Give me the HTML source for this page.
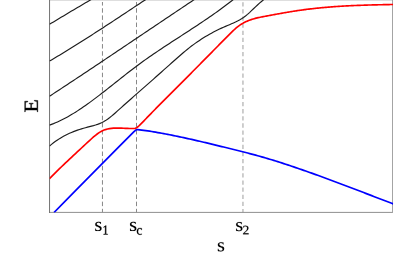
<!DOCTYPE html>
<html><head><meta charset="utf-8"><style>
html,body{margin:0;padding:0;background:#fff;}
body{width:415px;height:257px;overflow:hidden;position:relative;font-family:"Liberation Serif",serif;}
svg{position:absolute;left:0;top:0;display:block;}
</style></head><body>
<svg width="415" height="257" viewBox="0 0 415 257">
<defs><clipPath id="d"><rect x="0" y="1.9" width="415" height="211"/></clipPath><clipPath id="c"><rect x="49.5" y="0" width="343.6" height="212.6"/></clipPath></defs>
<g fill="none" stroke-linecap="butt" stroke-linejoin="round">
<g clip-path="url(#d)">
<line x1="102.46" y1="-6.1" x2="102.46" y2="212.4" stroke="#787878" stroke-width="0.88" stroke-dasharray="4.5 2.664"/>
<line x1="136.5" y1="-6.1" x2="136.5" y2="212.4" stroke="#787878" stroke-width="0.88" stroke-dasharray="4.5 2.664"/>
<line x1="242.95" y1="-5" x2="242.95" y2="212.4" stroke="#b4b4b4" stroke-width="1.3" stroke-dasharray="4.3 2.83"/>
</g>
<line x1="49.5" y1="0.5" x2="392.5" y2="0.5" stroke="#dedede" stroke-width="1"/>
<line x1="49" y1="212.4" x2="393" y2="212.4" stroke="#909090" stroke-width="1"/>
<line x1="392.5" y1="0" x2="392.5" y2="212.9" stroke="#a4a4a4" stroke-width="1"/>
<line x1="49.55" y1="0" x2="49.55" y2="212.9" stroke="#6a6a6a" stroke-width="0.95"/>
<g clip-path="url(#c)">
<path d="M49.50 24.30 L51.50 23.10 L53.50 21.90 L55.50 20.70 L57.50 19.50 L59.50 18.30 L61.50 17.10 L63.50 15.90 L65.50 14.70 L67.50 13.50 L69.50 12.30 L71.50 11.12 L73.50 9.95 L75.50 8.77 L77.50 7.59 L79.50 6.41 L81.50 5.22 L83.50 4.04 L85.50 2.87 L87.50 1.69 L89.50 0.50 L91.50 -0.70 L93.50 -1.90 L95.00 -2.80" stroke="#1c1c1c" stroke-width="1.15"/>
<path d="M49.50 61.11 L51.50 59.93 L53.50 58.74 L55.50 57.55 L57.50 56.35 L59.50 55.15 L61.50 53.94 L63.50 52.73 L65.50 51.50 L67.50 50.28 L69.50 49.04 L71.50 47.81 L73.50 46.56 L75.50 45.32 L77.50 44.06 L79.50 42.81 L81.50 41.54 L83.50 40.28 L85.50 39.01 L87.50 37.73 L89.50 36.45 L91.50 35.17 L93.50 33.89 L95.50 32.60 L97.50 31.30 L99.50 30.01 L101.50 28.71 L103.50 27.41 L105.50 26.10 L107.50 24.80 L109.50 23.49 L111.50 22.18 L113.50 20.86 L115.50 19.55 L117.50 18.23 L119.50 16.91 L121.50 15.59 L123.50 14.27 L125.50 12.94 L127.50 11.62 L129.50 10.29 L131.50 8.97 L133.50 7.64 L135.50 6.31 L137.50 4.99 L139.50 3.66 L141.50 2.33 L143.50 1.00 L145.50 -0.33 L147.50 -1.65 L149.50 -2.98 L151.00 -3.97" stroke="#1c1c1c" stroke-width="1.15"/>
<path d="M49.50 96.26 L51.50 94.95 L53.50 93.64 L55.50 92.33 L57.50 91.02 L59.50 89.70 L61.50 88.38 L63.50 87.07 L65.50 85.75 L67.50 84.43 L69.50 83.10 L71.50 81.78 L73.50 80.46 L75.50 79.13 L77.50 77.81 L79.50 76.48 L81.50 75.15 L83.50 73.82 L85.50 72.49 L87.50 71.16 L89.50 69.83 L91.50 68.49 L93.50 67.16 L95.50 65.82 L97.50 64.49 L99.50 63.15 L101.50 61.81 L103.50 60.48 L105.50 59.14 L107.50 57.80 L109.50 56.46 L111.50 55.12 L113.50 53.78 L115.50 52.44 L117.50 51.10 L119.50 49.75 L121.50 48.41 L123.50 47.07 L125.50 45.72 L127.50 44.38 L129.50 43.04 L131.50 41.69 L133.50 40.35 L135.50 39.00 L137.50 37.66 L139.50 36.31 L141.50 34.97 L143.50 33.63 L145.50 32.28 L147.50 30.94 L149.50 29.59 L151.50 28.25 L153.50 26.90 L155.50 25.56 L157.50 24.21 L159.50 22.87 L161.50 21.53 L163.50 20.18 L165.50 18.84 L167.50 17.50 L169.50 16.15 L171.50 14.81 L173.50 13.47 L175.50 12.13 L177.50 10.79 L179.50 9.45 L181.50 8.11 L183.50 6.77 L185.50 5.43 L187.50 4.10 L189.50 2.76 L191.50 1.42 L193.50 0.09 L195.50 -1.24 L197.50 -2.58 L198.00 -2.91" stroke="#1c1c1c" stroke-width="1.15"/>
<path d="M49.50 125.10 L51.50 124.38 L53.50 123.62 L55.50 122.80 L57.50 121.93 L59.50 121.01 L61.50 120.05 L63.50 119.04 L65.50 117.99 L67.50 116.89 L69.50 115.76 L71.50 114.59 L73.50 113.38 L75.50 112.14 L77.50 110.86 L79.50 109.55 L81.50 108.21 L83.50 106.85 L85.50 105.45 L87.50 104.04 L89.50 102.60 L91.50 101.13 L93.50 99.65 L95.50 98.15 L97.50 96.64 L99.50 95.11 L101.50 93.56 L103.50 92.01 L105.50 90.44 L107.50 88.87 L109.50 87.29 L111.50 85.71 L113.50 84.12 L115.50 82.53 L117.50 80.94 L119.50 79.36 L121.50 77.78 L123.50 76.20 L125.50 74.63 L127.50 73.07 L129.50 71.52 L131.50 69.98 L133.50 68.45 L135.50 66.95 L137.50 65.45 L139.50 63.98 L141.50 62.52 L143.50 61.08 L145.50 59.65 L147.50 58.24 L149.50 56.84 L151.50 55.45 L153.50 54.08 L155.50 52.71 L157.50 51.36 L159.50 50.02 L161.50 48.68 L163.50 47.35 L165.50 46.03 L167.50 44.71 L169.50 43.40 L171.50 42.10 L173.50 40.79 L175.50 39.50 L177.50 38.20 L179.50 36.90 L181.50 35.61 L183.50 34.31 L185.50 33.01 L187.50 31.71 L189.50 30.41 L191.50 29.10 L193.50 27.79 L195.50 26.48 L197.50 25.16 L199.50 23.83 L201.50 22.49 L203.50 21.14 L205.50 19.79 L207.50 18.42 L209.50 17.05 L211.50 15.66 L213.50 14.26 L215.50 12.85 L217.50 11.42 L219.50 9.98 L221.50 8.52 L223.50 7.04 L225.50 5.55 L227.50 4.04 L229.50 2.51 L231.50 0.95 L233.50 -0.62 L235.50 -2.21 L237.00 -3.42" stroke="#1c1c1c" stroke-width="1.15"/>
<path d="M49.50 146.08 L51.50 144.40 L53.50 142.82 L55.50 141.33 L57.50 139.94 L59.50 138.64 L61.50 137.42 L63.50 136.28 L65.50 135.21 L67.50 134.21 L69.50 133.28 L71.50 132.41 L73.50 131.60 L75.50 130.85 L77.50 130.14 L79.50 129.47 L81.50 128.85 L83.50 128.26 L85.50 127.71 L87.50 127.18 L89.50 126.67 L91.50 126.16 L93.50 125.63 L95.50 125.05 L97.50 124.40 L99.50 123.65 L101.50 122.79 L103.50 121.78 L105.50 120.61 L107.50 119.27 L109.50 117.78 L111.50 116.17 L113.50 114.47 L115.50 112.71 L117.50 110.91 L119.50 109.11 L121.50 107.32 L123.50 105.53 L125.50 103.75 L127.50 101.98 L129.50 100.21 L131.50 98.45 L133.50 96.69 L135.50 94.93 L137.50 93.18 L139.50 91.42 L141.50 89.66 L143.50 87.91 L145.50 86.15 L147.50 84.38 L149.50 82.62 L151.50 80.85 L153.50 79.07 L155.50 77.30 L157.50 75.52 L159.50 73.74 L161.50 71.96 L163.50 70.18 L165.50 68.39 L167.50 66.61 L169.50 64.82 L171.50 63.04 L173.50 61.25 L175.50 59.47 L177.50 57.70 L179.50 55.95 L181.50 54.22 L183.50 52.51 L185.50 50.84 L187.50 49.21 L189.50 47.62 L191.50 46.08 L193.50 44.59 L195.50 43.15 L197.50 41.75 L199.50 40.40 L201.50 39.09 L203.50 37.82 L205.50 36.59 L207.50 35.41 L209.50 34.26 L211.50 33.15 L213.50 32.08 L215.50 31.05 L217.50 30.05 L219.50 29.08 L221.50 28.14 L223.50 27.24 L225.50 26.37 L227.50 25.52 L229.50 24.68 L231.50 23.84 L233.50 22.96 L235.50 22.04 L237.50 21.05 L239.50 19.97 L241.50 18.77 L243.50 17.45 L245.50 15.98 L247.50 14.35 L249.50 12.57 L251.50 10.70 L253.50 8.78 L255.50 6.86 L257.50 4.98 L259.50 3.18 L261.50 1.45 L263.50 -0.18 L265.50 -1.73 L266.00 -2.10" stroke="#1c1c1c" stroke-width="1.15"/>
<path d="M49.50 178.60 L51.50 176.57 L53.50 174.56 L55.50 172.57 L57.50 170.61 L59.50 168.67 L61.50 166.74 L63.50 164.83 L65.50 162.93 L67.50 161.04 L69.50 159.16 L71.50 157.29 L73.50 155.43 L75.50 153.57 L77.50 151.71 L79.50 149.85 L81.50 147.99 L83.50 146.12 L85.50 144.26 L87.50 142.41 L89.50 140.57 L91.50 138.76 L93.50 136.99 L95.50 135.29 L97.50 133.74 L99.50 132.37 L101.50 131.22 L103.50 130.29 L105.50 129.58 L107.50 129.03 L109.50 128.62 L111.50 128.34 L113.50 128.15 L115.50 128.06 L117.50 128.03 L119.50 128.06 L121.50 128.13 L123.50 128.23 L125.50 128.33 L127.50 128.42 L129.50 128.49 L131.50 128.51 L133.50 128.49 L135.20 128.40 L136.20 128.08 L137.20 127.33 L138.20 126.51 L139.20 125.61 L140.20 124.66 L141.20 123.67 L142.20 122.65 L143.20 121.61 L144.20 120.57 L145.20 119.52 L146.20 118.48 L147.20 117.44 L148.20 116.41 L149.20 115.37 L150.20 114.34 L151.20 113.31 L152.20 112.28 L153.20 111.26 L154.20 110.23 L155.20 109.21 L156.20 108.19 L157.20 107.17 L158.20 106.16 L159.20 105.14 L160.20 104.13 L161.20 103.12 L162.20 102.11 L163.20 101.10 L164.20 100.09 L165.20 99.08 L166.20 98.08 L167.20 97.07 L168.20 96.07 L169.20 95.07 L170.20 94.07 L171.20 93.06 L172.20 92.06 L173.20 91.06 L174.20 90.06 L175.20 89.06 L176.20 88.06 L177.20 87.06 L178.20 86.07 L179.20 85.07 L180.20 84.07 L181.20 83.07 L182.20 82.07 L183.20 81.07 L184.20 80.07 L185.20 79.07 L186.20 78.07 L187.20 77.06 L188.20 76.06 L189.20 75.06 L190.20 74.05 L191.20 73.05 L192.20 72.04 L193.20 71.04 L194.20 70.03 L195.20 69.02 L196.20 68.01 L197.20 67.00 L198.20 65.99 L199.20 64.98 L200.20 63.97 L201.20 62.95 L202.20 61.94 L203.20 60.93 L204.20 59.92 L205.20 58.90 L206.20 57.89 L207.20 56.87 L208.20 55.86 L209.20 54.85 L210.20 53.83 L211.20 52.82 L212.20 51.80 L213.20 50.79 L214.20 49.77 L215.20 48.76 L216.20 47.74 L217.20 46.73 L218.20 45.71 L219.20 44.70 L220.20 43.69 L221.20 42.67 L222.20 41.66 L223.20 40.65 L224.20 39.64 L225.20 38.63 L226.20 37.62 L227.20 36.61 L228.20 35.60 L229.20 34.59 L230.20 33.59 L231.20 32.59 L232.20 31.62 L233.20 30.66 L234.20 29.73 L235.20 28.82 L236.20 27.96 L237.20 27.13 L238.20 26.34 L239.20 25.61 L240.20 24.92 L241.20 24.28 L242.20 23.67 L243.20 23.10 L244.20 22.56 L245.20 22.06 L246.20 21.58 L247.20 21.13 L248.20 20.71 L249.20 20.32 L250.20 19.95 L251.20 19.60 L252.20 19.27 L253.20 18.96 L254.20 18.67 L255.20 18.40 L256.20 18.14 L257.20 17.90 L258.20 17.67 L259.20 17.45 L260.20 17.24 L261.20 17.04 L262.20 16.84 L263.20 16.65 L264.20 16.46 L265.20 16.28 L266.20 16.09 L267.20 15.91 L268.20 15.72 L269.20 15.54 L270.20 15.35 L271.20 15.17 L272.20 14.98 L273.20 14.80 L274.20 14.61 L275.20 14.43 L276.20 14.24 L277.20 14.06 L278.20 13.88 L279.20 13.70 L280.20 13.51 L281.20 13.33 L282.20 13.16 L283.20 12.98 L284.20 12.80 L285.20 12.63 L286.20 12.45 L287.20 12.28 L288.20 12.11 L289.20 11.94 L290.20 11.78 L291.20 11.61 L292.20 11.45 L293.20 11.29 L294.20 11.13 L295.20 10.98 L296.20 10.82 L297.20 10.67 L298.20 10.52 L299.20 10.38 L300.20 10.23 L301.20 10.09 L302.20 9.96 L303.20 9.82 L304.20 9.69 L305.20 9.56 L306.20 9.43 L307.20 9.30 L308.20 9.18 L309.20 9.06 L310.20 8.94 L311.20 8.82 L312.20 8.70 L313.20 8.59 L314.20 8.48 L315.20 8.37 L316.20 8.27 L317.20 8.16 L318.20 8.06 L319.20 7.96 L320.20 7.86 L321.20 7.76 L322.20 7.67 L323.20 7.58 L324.20 7.49 L325.20 7.40 L326.20 7.31 L327.20 7.23 L328.20 7.15 L329.20 7.06 L330.20 6.98 L331.20 6.91 L332.20 6.83 L333.20 6.76 L334.20 6.68 L335.20 6.61 L336.20 6.54 L337.20 6.48 L338.20 6.41 L339.20 6.35 L340.20 6.28 L341.20 6.22 L342.20 6.16 L343.20 6.10 L344.20 6.05 L345.20 5.99 L346.20 5.94 L347.20 5.88 L348.20 5.83 L349.20 5.78 L350.20 5.73 L351.20 5.69 L352.20 5.64 L353.20 5.59 L354.20 5.55 L355.20 5.51 L356.20 5.47 L357.20 5.43 L358.20 5.39 L359.20 5.35 L360.20 5.31 L361.20 5.27 L362.20 5.24 L363.20 5.20 L364.20 5.17 L365.20 5.14 L366.20 5.11 L367.20 5.08 L368.20 5.05 L369.20 5.02 L370.20 4.99 L371.20 4.96 L372.20 4.93 L373.20 4.91 L374.20 4.88 L375.20 4.86 L376.20 4.83 L377.20 4.81 L378.20 4.79 L379.20 4.77 L380.20 4.74 L381.20 4.72 L382.20 4.70 L383.20 4.68 L384.20 4.66 L385.20 4.64 L386.20 4.62 L387.20 4.61 L388.20 4.59 L389.20 4.57 L390.20 4.55 L391.20 4.54 L392.20 4.52 L393.20 4.50" stroke="#ff0000" stroke-width="1.65"/>
<path d="M54.00 212.50 L76.00 190.20 L118.30 147.30 L134.00 131.60 L135.50 130.30 L136.60 129.75 L137.70 129.60 L139.70 129.79 L141.70 130.05 L143.70 130.32 L145.70 130.60 L147.70 130.90 L149.70 131.21 L151.70 131.53 L153.70 131.85 L155.70 132.19 L157.70 132.54 L159.70 132.90 L161.70 133.26 L163.70 133.63 L165.70 134.01 L167.70 134.40 L169.70 134.79 L171.70 135.18 L173.70 135.59 L175.70 136.00 L177.70 136.41 L179.70 136.83 L181.70 137.25 L183.70 137.68 L185.70 138.12 L187.70 138.56 L189.70 139.00 L191.70 139.45 L193.70 139.90 L195.70 140.36 L197.70 140.82 L199.70 141.28 L201.70 141.75 L203.70 142.22 L205.70 142.69 L207.70 143.16 L209.70 143.64 L211.70 144.12 L213.70 144.60 L215.70 145.09 L217.70 145.58 L219.70 146.06 L221.70 146.55 L223.70 147.04 L225.70 147.54 L227.70 148.03 L229.70 148.52 L231.70 149.02 L233.70 149.51 L235.70 150.01 L237.70 150.51 L239.70 151.01 L241.70 151.51 L243.70 152.02 L245.70 152.53 L247.70 153.05 L249.70 153.57 L251.70 154.09 L253.70 154.63 L255.70 155.17 L257.70 155.72 L259.70 156.27 L261.70 156.84 L263.70 157.41 L265.70 158.00 L267.70 158.59 L269.70 159.19 L271.70 159.79 L273.70 160.41 L275.70 161.03 L277.70 161.66 L279.70 162.29 L281.70 162.93 L283.70 163.58 L285.70 164.23 L287.70 164.89 L289.70 165.56 L291.70 166.23 L293.70 166.90 L295.70 167.58 L297.70 168.26 L299.70 168.95 L301.70 169.64 L303.70 170.34 L305.70 171.04 L307.70 171.74 L309.70 172.45 L311.70 173.16 L313.70 173.88 L315.70 174.60 L317.70 175.32 L319.70 176.05 L321.70 176.77 L323.70 177.51 L325.70 178.24 L327.70 178.98 L329.70 179.72 L331.70 180.46 L333.70 181.20 L335.70 181.95 L337.70 182.70 L339.70 183.45 L341.70 184.20 L343.70 184.96 L345.70 185.71 L347.70 186.47 L349.70 187.23 L351.70 187.99 L353.70 188.75 L355.70 189.52 L357.70 190.28 L359.70 191.05 L361.70 191.81 L363.70 192.58 L365.70 193.35 L367.70 194.12 L369.70 194.88 L371.70 195.65 L373.70 196.42 L375.70 197.19 L377.70 197.96 L379.70 198.72 L381.70 199.49 L383.70 200.26 L385.70 201.03 L387.70 201.79 L389.70 202.56 L391.70 203.32 L393.20 203.89" stroke="#0000ff" stroke-width="1.7"/>
</g>
</g>
<g>
<path transform="translate(98.400 226.450) scale(0.009937 -0.009391) translate(-403.50 -472.50)" d="M723 264Q723 124 634.5 52.0Q546 -20 373 -20Q303 -20 218.5 -5.5Q134 9 86 27V258H131L180 127Q255 59 375 59Q569 59 569 225Q569 347 416 399L327 428Q226 461 180.0 495.0Q134 529 109.0 578.5Q84 628 84 698Q84 822 168.5 893.5Q253 965 397 965Q500 965 655 934V729H608L566 838Q513 885 399 885Q318 885 275.5 845.0Q233 805 233 737Q233 680 271.5 641.0Q310 602 388 576Q535 526 580.0 503.0Q625 480 656.5 446.5Q688 413 705.5 370.0Q723 327 723 264Z" fill="#000" stroke="#000" stroke-width="0.1" vector-effect="non-scaling-stroke" stroke-linejoin="round"/>
<path transform="translate(105.650 230.000) scale(0.005687 -0.006509) translate(-540.50 -676.00)" d="M627 80 901 53V0H180V53L455 80V1174L184 1077V1130L575 1352H627Z" fill="#000" stroke="#000" stroke-width="0.35" vector-effect="non-scaling-stroke" stroke-linejoin="round"/>
<path transform="translate(133.150 226.450) scale(0.009937 -0.009391) translate(-403.50 -472.50)" d="M723 264Q723 124 634.5 52.0Q546 -20 373 -20Q303 -20 218.5 -5.5Q134 9 86 27V258H131L180 127Q255 59 375 59Q569 59 569 225Q569 347 416 399L327 428Q226 461 180.0 495.0Q134 529 109.0 578.5Q84 628 84 698Q84 822 168.5 893.5Q253 965 397 965Q500 965 655 934V729H608L566 838Q513 885 399 885Q318 885 275.5 845.0Q233 805 233 737Q233 680 271.5 641.0Q310 602 388 576Q535 526 580.0 503.0Q625 480 656.5 446.5Q688 413 705.5 370.0Q723 327 723 264Z" fill="#000" stroke="#000" stroke-width="0.1" vector-effect="non-scaling-stroke" stroke-linejoin="round"/>
<path transform="translate(139.350 231.400) scale(0.006510 -0.006802) translate(-462.00 -472.50)" d="M846 57Q797 21 711.0 0.5Q625 -20 535 -20Q78 -20 78 477Q78 712 194.5 838.5Q311 965 528 965Q663 965 823 934V672H768L725 838Q642 885 526 885Q258 885 258 477Q258 265 339.5 174.5Q421 84 592 84Q738 84 846 117Z" fill="#000" stroke="#000" stroke-width="0.3" vector-effect="non-scaling-stroke" stroke-linejoin="round"/>
<path transform="translate(239.250 226.600) scale(0.009937 -0.009391) translate(-403.50 -472.50)" d="M723 264Q723 124 634.5 52.0Q546 -20 373 -20Q303 -20 218.5 -5.5Q134 9 86 27V258H131L180 127Q255 59 375 59Q569 59 569 225Q569 347 416 399L327 428Q226 461 180.0 495.0Q134 529 109.0 578.5Q84 628 84 698Q84 822 168.5 893.5Q253 965 397 965Q500 965 655 934V729H608L566 838Q513 885 399 885Q318 885 275.5 845.0Q233 805 233 737Q233 680 271.5 641.0Q310 602 388 576Q535 526 580.0 503.0Q625 480 656.5 446.5Q688 413 705.5 370.0Q723 327 723 264Z" fill="#000" stroke="#000" stroke-width="0.1" vector-effect="non-scaling-stroke" stroke-linejoin="round"/>
<path transform="translate(245.850 230.000) scale(0.006577 -0.006416) translate(-500.50 -678.00)" d="M911 0H90V147L276 316Q455 473 539.0 570.0Q623 667 659.5 770.0Q696 873 696 1006Q696 1136 637.0 1204.0Q578 1272 444 1272Q391 1272 335.0 1257.5Q279 1243 236 1219L201 1055H135V1313Q317 1356 444 1356Q664 1356 774.5 1264.5Q885 1173 885 1006Q885 894 841.5 794.5Q798 695 708.0 596.5Q618 498 410 321Q321 245 221 154H911Z" fill="#000" stroke="#000" stroke-width="0.25" vector-effect="non-scaling-stroke" stroke-linejoin="round"/>
<path transform="translate(221.000 246.850) scale(0.009937 -0.009391) translate(-403.50 -472.50)" d="M723 264Q723 124 634.5 52.0Q546 -20 373 -20Q303 -20 218.5 -5.5Q134 9 86 27V258H131L180 127Q255 59 375 59Q569 59 569 225Q569 347 416 399L327 428Q226 461 180.0 495.0Q134 529 109.0 578.5Q84 628 84 698Q84 822 168.5 893.5Q253 965 397 965Q500 965 655 934V729H608L566 838Q513 885 399 885Q318 885 275.5 845.0Q233 805 233 737Q233 680 271.5 641.0Q310 602 388 576Q535 526 580.0 503.0Q625 480 656.5 446.5Q688 413 705.5 370.0Q723 327 723 264Z" fill="#000" stroke="#000" stroke-width="0.1" vector-effect="non-scaling-stroke" stroke-linejoin="round"/>
<path transform="translate(31.250 106.100) rotate(-90) scale(0.010642 -0.009769) translate(-604.00 -670.50)" d="M59 53 231 80V1262L59 1288V1341H1065V1020H999L967 1237Q855 1251 643 1251H424V727H786L817 887H881V475H817L786 637H424V90H688Q946 90 1026 106L1083 354H1149L1130 0H59Z" fill="#000" stroke="#000" stroke-width="0.38" vector-effect="non-scaling-stroke" stroke-linejoin="round"/>
</g>
</svg>
</body></html>
